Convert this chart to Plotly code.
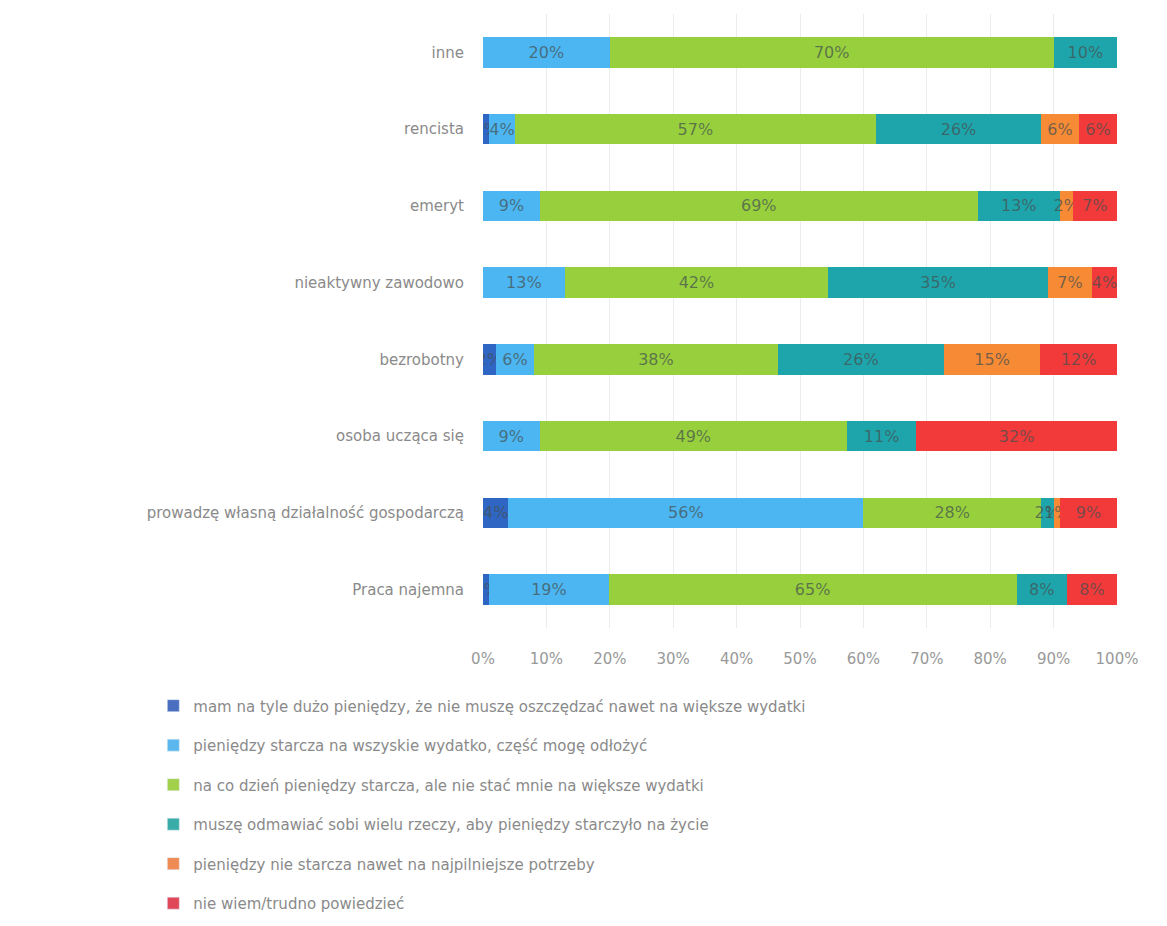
import plotly.graph_objects as go

categories = ["Praca najemna", "prowadzę własną działalność gospodarczą", "osoba ucząca się",
              "bezrobotny", "nieaktywny zawodowo", "emeryt", "rencista", "inne"]

series_names = [
    "mam na tyle dużo pieniędzy, że nie muszę oszczędzać nawet na większe wydatki",
    "pieniędzy starcza na wszyskie wydatko, część mogę odłożyć",
    "na co dzień pieniędzy starcza, ale nie stać mnie na większe wydatki",
    "muszę odmawiać sobi wielu rzeczy, aby pieniędzy starczyło na życie",
    "pieniędzy nie starcza nawet na najpilniejsze potrzeby",
    "nie wiem/trudno powiedzieć",
]

mam_duzo = [1, 4, 0, 2, 0, 0, 1, 0]
starcza_odloze = [19, 56, 9, 6, 13, 9, 4, 20]
na_co_dzien = [65, 28, 49, 38, 42, 69, 57, 70]
odmawiam = [8, 2, 11, 26, 35, 13, 26, 10]
nie_starcza = [0, 1, 0, 15, 7, 2, 6, 0]
nie_wiem = [8, 9, 32, 12, 4, 7, 6, 0]

series_values = [mam_duzo, starcza_odloze, na_co_dzien, odmawiam, nie_starcza, nie_wiem]
colors = ["#2f66c4", "#4cb6f2", "#97d03c", "#1ea5ab", "#f78a35", "#f23a3a"]
legend_colors = ["#4a6fc0", "#5ab8ee", "#a2d04a", "#3aaca8", "#f08a55", "#e0485a"]

x_ticks = [0, 10, 20, 30, 40, 50, 60, 70, 80, 90, 100]
x_tick_labels = [f"{t}%" for t in x_ticks]

fig = go.Figure()
for name, vals, col in zip(series_names, series_values, colors):
    fig.add_trace(go.Bar(
        y=categories, x=vals, name=name, orientation="h",
        marker=dict(color=col, line=dict(width=0)),
        text=[f"{v}%" if v > 0 else "" for v in vals],
        textposition="inside", insidetextanchor="middle", textangle=0,
        constraintext="none",
        textfont=dict(family="DejaVu Sans", size=16, color="rgba(70,80,80,0.72)"),
        legendgroup=name, showlegend=False,
    ))

# legend entries (square markers)
for name, col in zip(series_names, legend_colors):
    fig.add_trace(go.Bar(
        y=[None], x=[None], name=name, orientation="h",
        marker=dict(color=col), legendgroup=name, showlegend=True,
    ))

fig.update_layout(
    barmode="stack",
    barnorm="percent",
    bargap=0.6,
    width=1167, height=926,
    margin=dict(l=475, r=58, t=6, b=306, autoexpand=False),
    paper_bgcolor="white", plot_bgcolor="white",
    uniformtext=dict(minsize=16, mode="show"),
    font=dict(family="DejaVu Sans", color="#8a8a8a", size=15),
    legend=dict(
        orientation="v", x=-0.52, y=-0.1, xanchor="left", yanchor="top",
        traceorder="grouped", tracegroupgap=17,
        font=dict(family="DejaVu Sans", size=15, color="#8a8a8a"),
        itemwidth=30,
    ),
    showlegend=True,
)
fig.update_xaxes(
    range=[0, 100], tickvals=x_ticks, ticktext=x_tick_labels,
    showgrid=True, gridcolor="#ececec", gridwidth=1, zeroline=False,
    showline=False, ticks="", tickfont=dict(size=15, color="#999999"),
    ticklabelstandoff=20,
)
fig.update_yaxes(
    categoryorder="array", categoryarray=categories,
    showgrid=False, showline=False, ticks="",
    tickfont=dict(size=15, color="#8a8a8a"), ticklabelstandoff=18,
)

fig.write_html("out.html")
